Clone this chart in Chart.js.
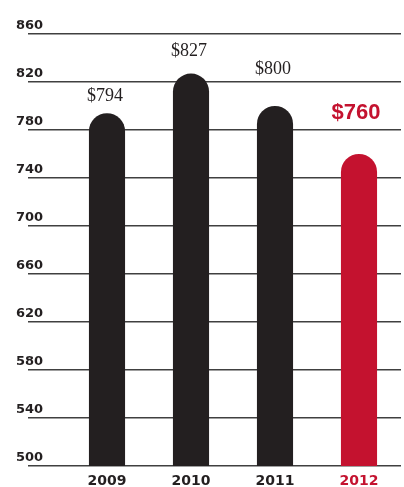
<!DOCTYPE html>
<html>
<head>
<meta charset="utf-8">
<script src="https://cdn.jsdelivr.net/npm/chart.js@4"></script>
<style>
  html, body { margin: 0; padding: 0; background: #fff; }
  #wrap { width: 404px; height: 487px; }
</style>
</head>
<body>
<div id="wrap"><canvas id="spend"></canvas></div>
<script>
const years = ["2009", "2010", "2011", "2012"];
const amounts = [794, 827, 800, 760];
const amountLabels = ["$794", "$827", "$800", "$760"];
const yMin = 500;
const yMax = 860;
const yStep = 40;

const ink = "#231f20";
const red = "#c4122f";

// value labels over the bars, last year highlighted
const valueLabels = {
  id: "valueLabels",
  afterDatasetsDraw(chart) {
    const ctx = chart.ctx;
    const bars = chart.getDatasetMeta(0).data;
    const lift = [17, 22, 37, 41];
    ctx.save();
    ctx.textAlign = "center";
    ctx.textBaseline = "middle";
    bars.forEach(function (bar, i) {
      const last = i === years.length - 1;
      ctx.fillStyle = last ? red : ink;
      ctx.font = last ? "bold 22px 'Liberation Sans Narrow', 'Liberation Sans', sans-serif"
                      : "18px 'Liberation Serif', serif";
      ctx.fillText(amountLabels[i], bar.x - (last ? 3 : 2), bar.y - lift[i]);
    });
    ctx.restore();
  }
};

let context = document.querySelector("#spend").getContext("2d");
new Chart(context, {
  type: "bar",
  data: {
    labels: years,
    datasets: [{
      data: amounts,
      backgroundColor: years.map((y, i) => i === years.length - 1 ? red : ink),
      borderRadius: { topLeft: 18, topRight: 18, bottomLeft: 0, bottomRight: 0 },
      borderSkipped: "bottom",
      categoryPercentage: 1,
      barPercentage: 0.43
    }]
  },
  options: {
    responsive: true,
    maintainAspectRatio: false,
    animation: false,
    layout: { padding: { left: 16, top: 34, right: 3, bottom: 0 } },
    plugins: {
      legend: { display: false },
      tooltip: { enabled: false }
    },
    scales: {
      x: {
        grid: { display: false, drawTicks: false },
        border: { display: false },
        ticks: {
          padding: 7,
          color: years.map((y, i) => i === years.length - 1 ? red : ink),
          font: { family: "'DejaVu Sans', sans-serif", size: 14, weight: "bold" }
        },
        afterFit(axis) { axis.height = 21; }
      },
      y: {
        min: yMin,
        max: yMax,
        border: { display: false },
        grid: { color: "#404040", lineWidth: 1.4, drawTicks: true, tickLength: 37, tickColor: "#404040" },
        ticks: {
          stepSize: yStep,
          crossAlign: "far",
          labelOffset: -8,
          color: ink,
          font: { family: "'DejaVu Sans', sans-serif", size: 13, weight: "bold" }
        },
        afterFit(axis) { axis.width = 49; }
      }
    }
  },
  plugins: [valueLabels]
});
</script>
</body>
</html>
